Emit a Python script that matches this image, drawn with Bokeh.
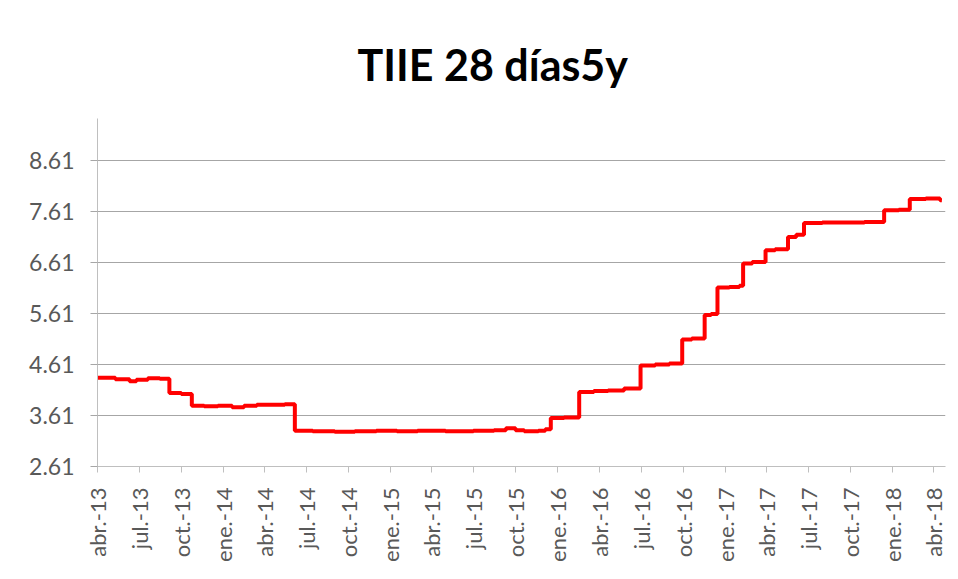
import math
from datetime import datetime
from bokeh.plotting import figure
from bokeh.models import FixedTicker, Range1d
from bokeh.embed import file_html
from bokeh.resources import INLINE

# ---- data ----
dates = ["2013-04-01", "2013-05-10", "2013-06-10", "2013-06-25", "2013-07-20", "2013-08-15",
         "2013-09-05", "2013-10-01", "2013-10-24", "2013-11-20", "2013-12-20", "2014-01-20",
         "2014-02-15", "2014-03-15", "2014-04-15", "2014-05-15", "2014-06-06", "2014-07-15",
         "2014-09-01", "2014-10-15", "2014-12-01", "2015-01-15", "2015-03-01", "2015-05-01",
         "2015-07-01", "2015-08-15", "2015-09-10", "2015-10-01", "2015-10-20", "2015-11-20",
         "2015-12-05", "2015-12-17", "2016-01-15", "2016-02-17", "2016-03-20", "2016-04-20",
         "2016-05-25", "2016-06-30", "2016-08-01", "2016-09-01", "2016-09-29", "2016-10-20",
         "2016-11-17", "2016-12-01", "2016-12-15", "2017-01-10", "2017-02-01", "2017-02-09",
         "2017-03-01", "2017-03-30", "2017-04-20", "2017-05-18", "2017-06-05", "2017-06-22",
         "2017-08-01", "2017-09-15", "2017-11-01", "2017-12-14", "2018-01-15", "2018-02-08",
         "2018-03-15", "2018-04-10", "2018-04-15", "2018-04-19"]
values = [4.35, 4.32, 4.28, 4.31, 4.34, 4.33,
          4.05, 4.03, 3.80, 3.79, 3.80, 3.77,
          3.80, 3.82, 3.82, 3.83, 3.31, 3.30,
          3.29, 3.30, 3.31, 3.30, 3.31, 3.30,
          3.31, 3.32, 3.36, 3.32, 3.30, 3.31,
          3.34, 3.56, 3.57, 4.07, 4.09, 4.10,
          4.14, 4.59, 4.61, 4.63, 5.10, 5.12,
          5.58, 5.60, 6.12, 6.13, 6.15, 6.59,
          6.62, 6.85, 6.87, 7.11, 7.15, 7.38,
          7.39, 7.39, 7.40, 7.63, 7.64, 7.85,
          7.86, 7.86, 7.83, 7.83]

y_ticks = [2.61, 3.61, 4.61, 5.61, 6.61, 7.61, 8.61]
y_tick_labels = ["2.61", "3.61", "4.61", "5.61", "6.61", "7.61", "8.61"]
x_tick_dates = ["2013-04-01", "2013-07-01", "2013-10-01", "2014-01-01", "2014-04-01",
                "2014-07-01", "2014-10-01", "2015-01-01", "2015-04-01", "2015-07-01",
                "2015-10-01", "2016-01-01", "2016-04-01", "2016-07-01", "2016-10-01",
                "2017-01-01", "2017-04-01", "2017-07-01", "2017-10-01", "2018-01-01",
                "2018-04-01"]
x_tick_labels = ["abr.-13", "jul.-13", "oct.-13", "ene.-14", "abr.-14", "jul.-14", "oct.-14",
                 "ene.-15", "abr.-15", "jul.-15", "oct.-15", "ene.-16", "abr.-16", "jul.-16",
                 "oct.-16", "ene.-17", "abr.-17", "jul.-17", "oct.-17", "ene.-18", "abr.-18"]
title_text = "TIIE 28 días5y"


def ms(s):
    return datetime.strptime(s, "%Y-%m-%d").timestamp() * 1000.0


xs = [ms(d) for d in dates]
xt = [ms(d) for d in x_tick_dates]

W, H = 950, 571
p = figure(width=W, height=H, output_backend="svg", toolbar_location=None,
           x_axis_type="datetime",
           x_range=Range1d(ms("2013-04-01"), ms("2018-04-27")),
           y_range=Range1d(2.61, 9.43),
           min_border_left=97, min_border_right=5, min_border_top=118, min_border_bottom=105)

p.outline_line_color = None
p.background_fill_color = "white"
p.border_fill_color = "white"

p.title.text = title_text
p.title.text_font = "Lato"
p.title.text_font_size = "43px"
p.title.text_font_style = "bold"
p.title.text_color = "black"
p.title.align = "left"
p.title.offset = 260
p.title.standoff = 58

p.step(xs, values, mode="after", line_color="#ff0000", line_width=4)

# axes
p.xaxis.ticker = FixedTicker(ticks=xt)
p.xaxis.major_label_overrides = {t: l for t, l in zip(xt, x_tick_labels)}
p.xaxis.major_label_orientation = math.pi / 2
p.xaxis.minor_tick_line_color = None
p.xaxis.major_tick_in = 0
p.xaxis.major_tick_out = 6
p.xaxis.axis_line_color = "#bfbfbf"
p.xaxis.major_tick_line_color = "#bfbfbf"
p.xaxis.major_label_standoff = 15
p.xaxis.major_label_text_font_size = "22px"

p.yaxis.ticker = FixedTicker(ticks=y_ticks)
p.yaxis.major_label_overrides = {t: l for t, l in zip(y_ticks, y_tick_labels)}
p.yaxis.minor_tick_line_color = None
p.yaxis.major_tick_in = 0
p.yaxis.major_tick_out = 7
p.yaxis.axis_line_color = "#bfbfbf"
p.yaxis.major_tick_line_color = "#a6a6a6"
p.yaxis.major_label_standoff = 16
p.yaxis.major_label_text_font_size = "23px"

for ax in (p.xaxis, p.yaxis):
    ax.major_label_text_font = "Lato"
    ax.major_label_text_color = "#595959"

p.xgrid.grid_line_color = None
p.ygrid.grid_line_color = "#a6a6a6"
p.ygrid.grid_line_width = 1

open("out.html", "w").write(file_html(p, INLINE))
